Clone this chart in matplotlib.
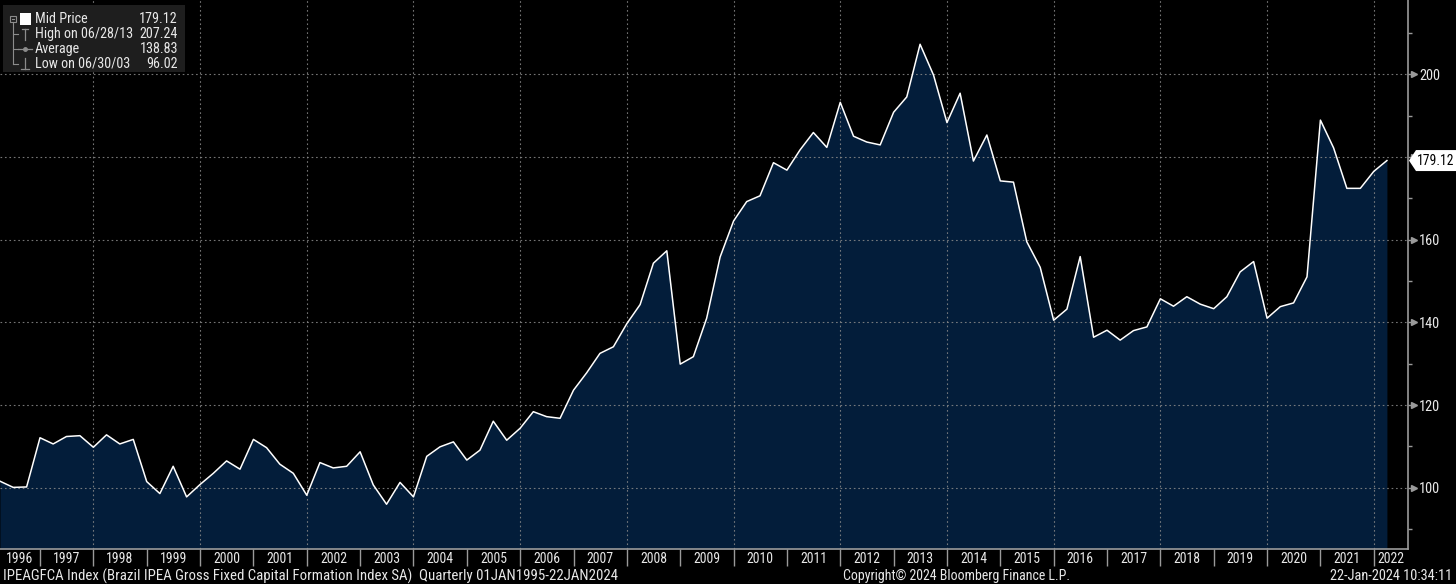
import numpy as np
import pandas as pd
import matplotlib
matplotlib.use("Agg")
import matplotlib.pyplot as plt
from matplotlib import font_manager
from matplotlib.patches import Polygon, Rectangle
from matplotlib.lines import Line2D
import matplotlib.transforms as mtransforms

# ---------------- data ----------------
start_quarter_end = "1996-03-31"
values = [101.6, 100.1, 100.2, 112.1, 110.6, 112.4, 112.6, 109.8, 112.8, 110.6,
          111.7, 101.5, 98.6, 105.2, 97.8, 100.8, 103.5, 106.5, 104.5, 111.7,
          109.7, 105.7, 103.5, 98.2, 106.1, 104.8, 105.2, 108.7, 100.7, 96.02,
          101.3, 97.8, 107.6, 109.9, 111.1, 106.7, 109.1, 116.1, 111.5, 114.4,
          118.4, 117.2, 116.8, 123.6, 127.8, 132.5, 134.1, 139.7, 144.3, 154.3,
          157.3, 129.9, 131.7, 141.0, 155.8, 164.5, 169.2, 170.6, 178.6, 176.8,
          181.7, 185.9, 182.3, 193.2, 185.0, 183.6, 182.9, 190.8, 194.5, 207.24,
          199.8, 188.3, 195.4, 179.0, 185.3, 174.2, 173.9, 159.5, 153.3, 140.5,
          143.2, 155.9, 136.4, 138.1, 135.7, 138.0, 138.9, 145.7, 143.9, 146.2,
          144.4, 143.3, 146.2, 152.2, 154.7, 141.0, 143.8, 144.7, 151.0, 188.9,
          182.2, 172.4, 172.4, 176.5, 179.12]
year_labels = list(range(1996, 2023))
ytick_major = [100, 120, 140, 160, 180, 200]
ytick_labels = ["100", "120", "140", "160", "", "200"]   # 180 is hidden behind the last-value tag
ytick_minor = [90, 110, 130, 150, 170, 190, 210]
legend_labels = ["Mid Price", "High on 06/28/13", "Average", "Low on 06/30/03"]
legend_values = ["179.12", "207.24", "138.83", "96.02"]
last_label = "179.12"
footer_left = "IPEAGFCA Index (Brazil IPEA Gross Fixed Capital Formation Index SA)  Quarterly 01JAN1995-22JAN2024"
footer_mid = "Copyright\u00a9 2024 Bloomberg Finance L.P."
footer_right = "22-Jan-2024 10:34:11"

dates = pd.date_range(start_quarter_end, periods=len(values), freq="QE")
xs = np.array([d.year + d.dayofyear / (366 if d.is_leap_year else 365) for d in dates])

# ---------------- font choice: prefer a narrow sans ----------------
def _is_narrow(f):
    st = f.stretch
    if isinstance(st, (int, float)):
        return st < 500
    return ("condensed" in str(st)) or ("Narrow" in f.name) or ("Condensed" in f.name)

pref = ["Liberation Sans Narrow", "DejaVu Sans Condensed", "Roboto Condensed",
        "Open Sans Condensed", "Noto Sans", "Open Sans", "DejaVu Sans", "Roboto"]
narrow = [f for f in font_manager.fontManager.ttflist
          if _is_narrow(f) and f.style == "normal"
          and str(f.weight) in ("400", "normal", "regular", "book")]
narrow.sort(key=lambda f: pref.index(f.name) if f.name in pref else len(pref))
if narrow:
    FP = font_manager.FontProperties(fname=narrow[0].fname)
else:
    FP = font_manager.FontProperties(family="Roboto")

W, H = 1456, 584
fig = plt.figure(figsize=(W / 100, H / 100), dpi=100, facecolor="black")
renderer = fig.canvas.get_renderer()
TXT = "#e8e8e8"
GRID = "#8a8a8a"
SPINE = "#9a9a9a"
FILL = "#031d3a"


def size_for(text, target_px):
    t = fig.text(0, 0, text, fontproperties=FP, fontsize=10)
    w = t.get_window_extent(renderer).width
    t.remove()
    return 10 * target_px / w


def ftext(x, y, s, target_px, **kw):
    fp = FP.copy()
    fp.set_size(size_for(s, target_px))
    return fig.text(x / W, 1 - y / H, s, fontproperties=fp, **kw)


ax = fig.add_axes([0, 35 / H, 1408 / W, 549 / H])
ax.set_facecolor("black")

ylo, yhi = 85.2, 217.94
xlo = 1996.25
xhi = xlo + 1408 / 53.35
ax.set_xlim(xlo, xhi)
ax.set_ylim(ylo, yhi)

ax.fill_between(xs, values, ylo, color=FILL, lw=0, zorder=1)
ax.plot(xs, values, color="white", lw=1.1, zorder=4)

for yv in ytick_major:
    ax.axhline(yv, color=GRID, lw=0.8, ls=(0, (1.5, 2.5)), alpha=0.85, zorder=2)
for yr in year_labels:
    if yr % 2 == 0 and xlo < yr < xhi:
        ax.axvline(yr, color=GRID, lw=0.8, ls=(0, (1.5, 2.5)), alpha=0.85, zorder=2)

for s in ["left", "top"]:
    ax.spines[s].set_visible(False)
for s in ["right", "bottom"]:
    ax.spines[s].set_color(SPINE)
    ax.spines[s].set_linewidth(1.2)

# x axis
year_size = size_for("1996", 27)
sep = [y for y in year_labels if xlo < y < xhi]
ax.set_xticks(sep)
ax.set_xticklabels([])
ax.tick_params(axis="x", which="major", direction="out", length=12, width=1, color=SPINE)
lab_pos = [(max(y, xlo) + min(y + 1, xhi)) / 2 for y in year_labels]
ax.set_xticks(lab_pos, minor=True)
ax.set_xticklabels([str(y) for y in year_labels], minor=True)
ax.tick_params(axis="x", which="minor", length=0, pad=2.5, labelcolor=TXT)
for lbl in ax.get_xticklabels(minor=True):
    lbl.set_fontproperties(FP)
    lbl.set_fontsize(year_size)

# y axis on the right
ysize = size_for("200", 21)
ax.yaxis.tick_right()
ax.set_yticks(ytick_major)
ax.set_yticklabels(ytick_labels)
ax.set_yticks(ytick_minor, minor=True)
ax.tick_params(axis="y", which="major", direction="out", length=5, width=1, color=SPINE,
               pad=3, labelcolor=TXT)
ax.tick_params(axis="y", which="minor", direction="out", length=3, width=1, color=SPINE)
for lbl in ax.get_yticklabels():
    lbl.set_fontproperties(FP)
    lbl.set_fontsize(ysize)
trans = mtransforms.blended_transform_factory(ax.transAxes, ax.transData)
ax.plot([1.004] * len(ytick_major), ytick_major, ls="none", marker=">", ms=4,
        color=SPINE, transform=trans, clip_on=False, zorder=5)

# last value tag
fig.canvas.draw()
_, ypix = ax.transData.transform((xhi, values[-1]))
xpix = ax.transAxes.transform((1, 0))[0]
tag = Polygon([(xpix + 1, ypix), (xpix + 8, ypix + 10.5), (W, ypix + 10.5),
               (W, ypix - 10.5), (xpix + 8, ypix - 10.5)],
              closed=True, transform=None, fc="white", ec="none", zorder=10)
fig.patches.append(tag)
ftext(xpix + 9, H - ypix, last_label, 37, color="black", ha="left", va="center", zorder=11)

# ---------------- legend box ----------------
ft = fig.transFigure
fig.patches.append(Rectangle((3 / W, 1 - 72 / H), 182 / W, 67 / H, transform=ft,
                             fc="#1e1e1e", ec="none", zorder=6))
rows = [19, 34, 49, 64]
TREE = "#8c8c8c"


def seg(x0, y0, x1, y1, lw=0.8):
    fig.add_artist(Line2D([x0 / W, x1 / W], [1 - y0 / H, 1 - y1 / H], transform=ft,
                          color=TREE, lw=lw, zorder=7))


fig.add_artist(Rectangle((10 / W, 1 - 22 / H), 6 / W, 6 / H, transform=ft, fill=False,
                         ec=TREE, lw=0.8, zorder=7))
seg(11.5, 19, 14.5, 19)
seg(13, 22, 13, 64)
for ry in rows[1:]:
    seg(13, ry, 18, ry)
fig.add_artist(Rectangle((20 / W, 1 - 25 / H), 11 / W, 12 / H, transform=ft, fc="white",
                         ec="none", zorder=7))
seg(25, 29, 25, 40, 0.9)
seg(22, 29, 28, 29, 0.9)
seg(18, 49, 32, 49, 0.9)
fig.add_artist(Line2D([25 / W], [1 - 49 / H], transform=ft, color=TREE, marker="o", ms=2.5, zorder=7))
seg(25, 58, 25, 69, 0.9)
seg(21, 69, 29, 69, 0.9)

leg_size = size_for("High on 06/28/13", 98)
for ry, lab, val in zip(rows, legend_labels, legend_values):
    fp = FP.copy()
    fp.set_size(leg_size)
    fig.text(35 / W, 1 - ry / H, lab, fontproperties=fp, color=TXT, ha="left", va="center", zorder=8)
    fig.text(178 / W, 1 - ry / H, val, fontproperties=fp, color=TXT, ha="right", va="center", zorder=8)

# ---------------- footer ----------------
ftext(3, 576, footer_left, 609, color=TXT, ha="left", va="center")
ftext(843, 576, footer_mid, 228, color=TXT, ha="left", va="center")
ftext(1452, 576, footer_right, 122, color=TXT, ha="right", va="center")

fig.savefig("out.png", dpi=100, facecolor="black")
